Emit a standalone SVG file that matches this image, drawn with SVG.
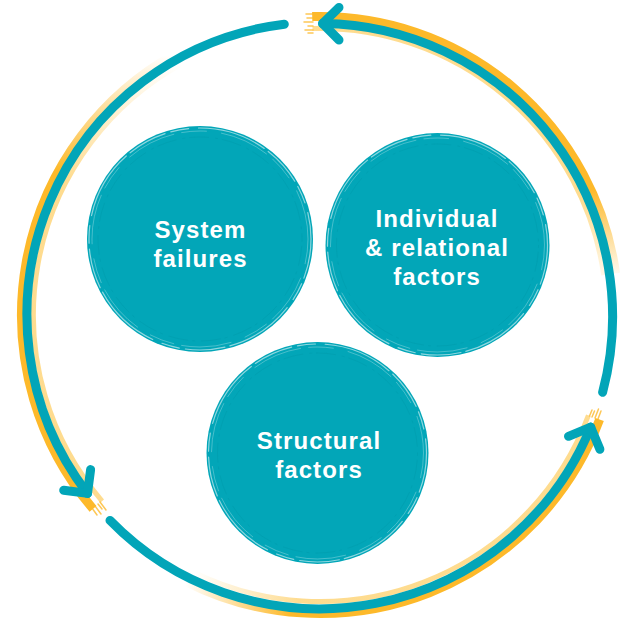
<svg xmlns="http://www.w3.org/2000/svg" width="621" height="620" viewBox="0 0 621 620">
<defs>
<style>
.teal{stroke:#02A5B8;stroke-width:9;fill:none;stroke-linecap:round;stroke-linejoin:round}
.yo{fill:none;stroke-width:9}
.yi{fill:none;stroke-width:5;opacity:.75}
.node{fill:#02A6B8}
.lbl{font-family:"Liberation Sans",Arial,sans-serif;font-weight:700;font-size:24px;fill:#fff;text-anchor:middle;letter-spacing:1.1px}
.rim{fill:none;stroke:#fff;stroke-linecap:round}
.rim1{stroke-width:1.2;opacity:.55;stroke-dasharray:40 6 18 10 70 5}
.rim2{stroke-width:.8;opacity:.35;stroke-dasharray:25 15 50 8}
.rim3{fill:none;stroke:#00808f;stroke-width:.6;opacity:.25;stroke-dasharray:3 4 20 6}
.br{stroke:#FDB92A;stroke-width:1.5;stroke-linecap:round;fill:none;opacity:.8}
</style>
<linearGradient id="gL" gradientUnits="userSpaceOnUse" x1="0" y1="55" x2="0" y2="170">
<stop offset="0" stop-color="#FDB92A" stop-opacity="0"/><stop offset="1" stop-color="#FDB92A"/></linearGradient>
<linearGradient id="gLi" gradientUnits="userSpaceOnUse" x1="0" y1="65" x2="0" y2="180">
<stop offset="0" stop-color="#FED06A" stop-opacity="0"/><stop offset="1" stop-color="#FED06A"/></linearGradient>
<linearGradient id="gB" gradientUnits="userSpaceOnUse" x1="185" y1="0" x2="290" y2="0">
<stop offset="0" stop-color="#FDB92A" stop-opacity="0"/><stop offset="1" stop-color="#FDB92A"/></linearGradient>
<linearGradient id="gBi" gradientUnits="userSpaceOnUse" x1="195" y1="0" x2="300" y2="0">
<stop offset="0" stop-color="#FED06A" stop-opacity="0"/><stop offset="1" stop-color="#FED06A"/></linearGradient>
<linearGradient id="gR" gradientUnits="userSpaceOnUse" x1="0" y1="280" x2="0" y2="190">
<stop offset="0" stop-color="#FDB92A" stop-opacity="0"/><stop offset="1" stop-color="#FDB92A"/></linearGradient>
<linearGradient id="gRi" gradientUnits="userSpaceOnUse" x1="0" y1="295" x2="0" y2="200">
<stop offset="0" stop-color="#FED06A" stop-opacity="0"/><stop offset="1" stop-color="#FED06A"/></linearGradient>
</defs>
<rect width="621" height="620" fill="#fff"/>
<g id="connectors">
<g id="arc-left">
<path class="yo" stroke="url(#gL)" d="M175.3,53.9 A298.5,298.5 0 0 0 93,508.8"/>
<path class="yi" stroke="url(#gLi)" d="M181.1,64.4 A286.5,286.5 0 0 0 102.1,501.1"/>
<path class="br" d="M92,508 L97,515 M95,506 L101,514 M98,504 L102,509 M100,502 L106,510"/>
<path class="teal" d="M284.3,24.2 A293,293 0 0 0 87.5,493.4"/>
<path class="teal" d="M90.6,469.6 L87.5,493.4 L63.7,490.3"/>
</g>
<g id="arc-bottom">
<path class="yo" stroke="url(#gB)" d="M186.8,582.1 A298.5,298.5 0 0 0 599.6,419.5"/>
<path class="yi" stroke="url(#gBi)" d="M192.2,571.4 A286.5,286.5 0 0 0 588.4,415.3"/>
<path class="br" d="M598,419 L601,411 M595,418 L598.5,409 M592,417 L594.5,411 M589.5,416 L592,410"/>
<path class="teal" d="M110,520.4 A293,293 0 0 0 590.7,427.1"/>
<path class="teal" d="M568.5,436.3 L590.7,427.1 L599.9,449.3"/>
</g>
<g id="arc-right">
<path class="yo" stroke="url(#gR)" d="M615.6,273.4 A298.5,298.5 0 0 0 312.2,16.6"/>
<path class="yi" stroke="url(#gRi)" d="M603.7,275.1 A286.5,286.5 0 0 0 312.5,28.6"/>
<path class="br" d="M313,14 L306,14 M313,18 L307,18 M313,22 L304,22 M313,26 L308,26 M313,30 L305,30 M313,33 L308,33"/>
<path class="teal" d="M602.6,392.3 A293,293 0 0 0 322.6,23.5"/>
<path class="teal" d="M339,7.5 L322.6,23.5 L339,40"/>
</g>
</g>
<g id="node-system">
<circle class="node" cx="200" cy="239" r="113"/>
<circle class="rim rim1" cx="200" cy="239" r="111"/>
<circle class="rim rim2" cx="200" cy="239" r="108"/>
<circle class="rim3" cx="200" cy="239" r="102"/>
<text class="lbl" x="200.5" y="238">System</text>
<text class="lbl" x="200.5" y="267">failures</text>
</g>
<g id="node-individual">
<circle class="node" cx="437.5" cy="245" r="112"/>
<circle class="rim rim1" cx="437.5" cy="245" r="110"/>
<circle class="rim rim2" cx="437.5" cy="245" r="107"/>
<circle class="rim3" cx="437.5" cy="245" r="101"/>
<text class="lbl" x="437" y="227">Individual</text>
<text class="lbl" x="437" y="256">&amp; relational</text>
<text class="lbl" x="437" y="285">factors</text>
</g>
<g id="node-structural">
<circle class="node" cx="317.5" cy="453" r="111"/>
<circle class="rim rim1" cx="317.5" cy="453" r="109"/>
<circle class="rim rim2" cx="317.5" cy="453" r="106"/>
<circle class="rim3" cx="317.5" cy="453" r="100"/>
<text class="lbl" x="319" y="449">Structural</text>
<text class="lbl" x="319" y="478">factors</text>
</g>
</svg>
